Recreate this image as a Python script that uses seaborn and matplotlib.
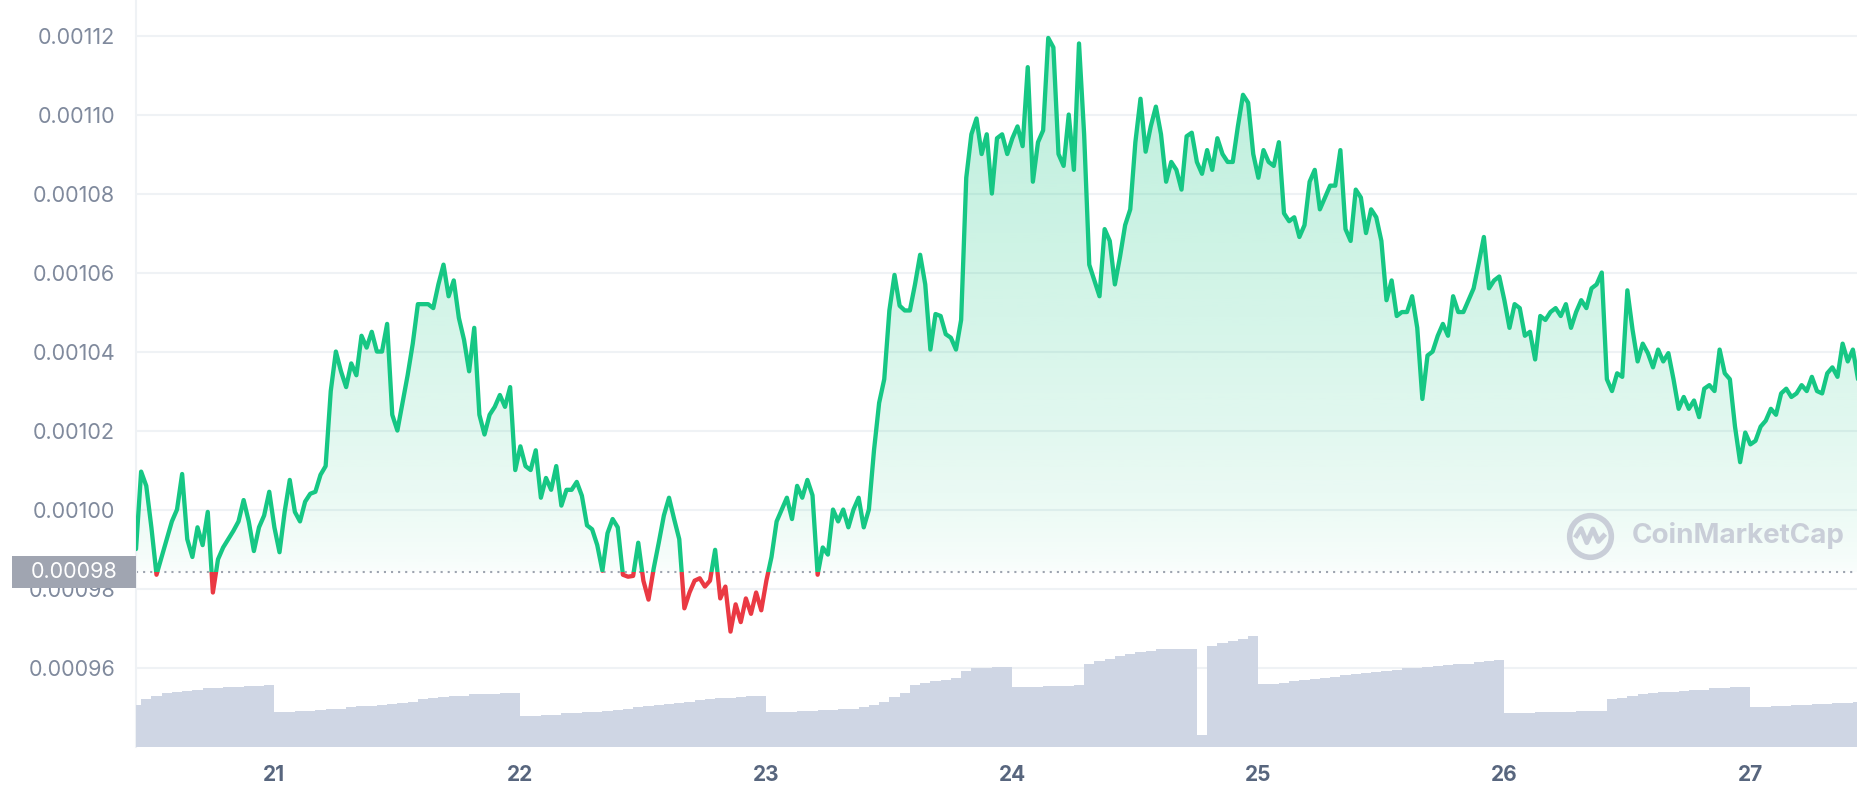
import numpy as np
import pandas as pd
import matplotlib.pyplot as plt
import matplotlib.dates as mdates
import matplotlib.transforms as mtransforms
from matplotlib.patches import Rectangle
from matplotlib.path import Path
import seaborn as sns

# price readings, one every 30 minutes from Nov 20 10:30, in millionths
price_nov20 = [990, 1009.6, 1006, 995.5, 983.5, 988, 992.5, 997, 1000, 1009, 992.5, 988, 995.5, 991,
               999.4, 979, 987.4, 990.4, 992.5, 994.6, 997, 1002.4, 997, 989.5, 995.5, 998.5, 1004.5]
price_nov21 = [995.5, 989.2, 999.4, 1007.5, 999.4, 997, 1002, 1004, 1004.5, 1008.8, 1011, 1030, 1040, 1035,
               1031, 1037, 1034, 1044, 1041, 1045, 1040, 1040, 1047, 1024, 1020, 1027, 1034, 1042, 1052, 1052,
               1052, 1051, 1057, 1062, 1054, 1058, 1048.5, 1043, 1035, 1046, 1024, 1019, 1024, 1026, 1029,
               1026, 1031, 1010]
price_nov22 = [1016, 1011, 1010, 1015, 1003, 1008, 1005, 1011, 1001, 1005, 1005, 1007, 1003.5, 996, 995, 991,
               984.5, 994, 997.6, 995.5, 983.5, 983, 983.2, 991.6, 982, 977.2, 985, 991.6, 998.5, 1003, 997.6,
               992.5, 975, 979, 982, 982.6, 980.5, 982, 989.8, 977.5, 980.5, 969.1, 976, 971.5, 977.5, 973.6,
               979, 974.5]
price_nov23 = [982, 988, 997, 1000, 1003, 997.6, 1006, 1003, 1007.5, 1003.6, 983.5, 990.4, 988.6, 1000, 997,
               1000, 995.5, 1000, 1003, 995.5, 1000, 1015, 1027, 1033, 1050.4, 1059.4, 1051.6, 1050.4, 1050.4,
               1057, 1064.5, 1057, 1040.5, 1049.5, 1049, 1044.4, 1043.5, 1040.5, 1048, 1084, 1095, 1099, 1090,
               1095, 1080, 1094, 1095, 1090]
price_nov24 = [1094, 1097, 1092, 1112, 1083, 1093, 1096, 1119.4, 1117, 1090, 1087, 1100, 1086, 1118, 1095,
               1062, 1058, 1054, 1071, 1068, 1057, 1064, 1072, 1076, 1093, 1104, 1090.6, 1097, 1102, 1095,
               1083, 1088, 1086, 1081, 1094.5, 1095.4, 1088, 1085, 1091, 1086, 1094, 1090, 1088, 1088, 1097,
               1105, 1103, 1090]
price_nov25 = [1084, 1091, 1088, 1087, 1093, 1075, 1073, 1074, 1069, 1072, 1083, 1086, 1076, 1079, 1082, 1082,
               1091, 1071, 1068, 1081, 1079, 1070, 1076, 1074, 1068, 1053, 1058, 1049, 1050, 1050, 1054, 1046,
               1028, 1039, 1040, 1044, 1047, 1044, 1054, 1050, 1050, 1053, 1056, 1062.4, 1069, 1056, 1058, 1059]
price_nov26 = [1053, 1046, 1052, 1051, 1044, 1045, 1038, 1049, 1048, 1050, 1051, 1049, 1052, 1046, 1050, 1053,
               1051, 1056, 1057, 1060, 1033, 1030, 1034.5, 1033.6, 1055.5, 1045.6, 1037.5, 1042, 1039.6, 1036,
               1040.5, 1037.5, 1039.6, 1033, 1025.5, 1028.5, 1025.5, 1027.6, 1023.4, 1030.6, 1031.5, 1030,
               1040.5, 1034.5, 1033, 1021, 1012, 1019.5]
price_nov27 = [1016.5, 1017.4, 1021, 1022.5, 1025.5, 1024, 1029.4, 1030.6, 1028.5, 1029.4, 1031.5, 1030,
               1033.6, 1030, 1029.4, 1034.5, 1036, 1033.6, 1042, 1037.5, 1040.5, 1033]

# rolling 24h volume, one reading per hour (relative bar height)
vol_nov20 = [35, 40, 43, 45, 46, 47, 48, 49, 49, 50, 50, 51, 51, 52]
vol_nov21 = [29, 29, 30, 30, 31, 32, 32, 33, 34, 34, 35, 36, 37, 38, 40, 41, 42, 43, 43, 44, 44, 44, 45, 45]
vol_nov22 = [26, 26, 27, 27, 28, 28, 29, 29, 30, 31, 32, 33, 34, 35, 36, 37, 38, 39, 40, 41, 41, 42, 43, 43]
vol_nov23 = [29, 29, 29, 30, 30, 31, 31, 32, 32, 33, 35, 38, 42, 45, 52, 54, 55, 56, 58, 64, 66, 66, 67, 67]
vol_nov24 = [50, 50, 50, 51, 51, 51, 52, 70, 72, 74, 76, 78, 80, 81, 82, 82, 82, 82, 10, 85, 87, 89, 91, 93]
vol_nov25 = [53, 53, 54, 55, 56, 57, 58, 59, 60, 61, 62, 63, 64, 65, 66, 66, 67, 68, 69, 70, 70, 71, 72, 73]
vol_nov26 = [28, 28, 28, 29, 29, 29, 29, 30, 30, 30, 40, 41, 43, 44, 45, 46, 46, 47, 48, 48, 49, 49, 50, 50]
vol_nov27 = [33, 33, 34, 34, 35, 35, 36, 36, 37, 37, 38]

open_price = 984.1
y_ticks = [0.00096, 0.00098, 0.00100, 0.00102, 0.00104, 0.00106, 0.00108, 0.00110, 0.00112]
day_ticks = [21, 22, 23, 24, 25, 26, 27]

GREEN = "#16c784"
RED = "#ea3943"
GRID = "#eff2f5"
VOL = "#cfd6e4"
LABEL = "#808a9d"
MARK = "#c9ced8"

sns.set_style("white")
plt.rcParams["font.family"] = ["Inter", "DejaVu Sans"]

start = pd.Timestamp("2022-11-20 10:30")
price = np.array(price_nov20 + price_nov21 + price_nov22 + price_nov23 +
                 price_nov24 + price_nov25 + price_nov26 + price_nov27) * 1e-6
volume = (vol_nov20 + vol_nov21 + vol_nov22 + vol_nov23 +
          vol_nov24 + vol_nov25 + vol_nov26 + vol_nov27)
df = pd.DataFrame({"time": pd.date_range(start, periods=len(price), freq="30min"), "price": price})
vol_df = pd.DataFrame({"time": pd.date_range(start, periods=len(volume), freq="1h"), "volume": volume})
base = open_price * 1e-6
y_lo, y_hi = 0.000940, 0.001129

fig = plt.figure(figsize=(18.58, 8), dpi=100)
ax = fig.add_axes([0.0732, 0.0668, 0.9268, 0.9332])
ax_vol = ax.twinx()
ax_vol.set_zorder(ax.get_zorder() + 1)
ax_vol.patch.set_visible(False)

# volume bars, drawn over the grid
ax_vol.fill_between(vol_df["time"], vol_df["volume"], step="mid", color=VOL, lw=0)
ax_vol.set_ylim(0, 630)
ax_vol.set_yticks([])
for s in ax_vol.spines.values():
    s.set_visible(False)

# gradient area above the open price
area = ax.fill_between(df["time"], df["price"], base, where=df["price"] >= base,
                       interpolate=True, facecolor="none", edgecolor="none")
clip = Path.make_compound_path(*area.get_paths())
t = np.linspace(1, 0, 256)
grad = np.zeros((256, 1, 4))
grad[..., :3] = plt.matplotlib.colors.to_rgb(GREEN)
grad[..., 3] = (0.02 + 0.27 * t ** 0.7)[:, None]
x0 = mdates.date2num(df["time"].iloc[0])
x1 = mdates.date2num(df["time"].iloc[-1])
im = ax.imshow(grad, extent=[x0, x1, base, 0.00112], aspect="auto", origin="upper", zorder=1)
im.set_clip_path(clip, ax.transData)

# price line: green above open, red below
blend = mtransforms.blended_transform_factory(ax.transAxes, ax.transData)
sns.lineplot(data=df, x="time", y="price", ax=ax, color=GREEN, lw=3.1, zorder=3)
sns.lineplot(data=df, x="time", y="price", ax=ax, color=RED, lw=3.1, zorder=3)
green_line, red_line = ax.lines[-2], ax.lines[-1]
green_line.set_clip_path(Rectangle((0, base), 1, 1, transform=blend))
red_line.set_clip_path(Rectangle((0, base - 1), 1, 1, transform=blend))
for ln in (green_line, red_line):
    ln.set_solid_joinstyle("round")

ax.axhline(base, color="#9ea4b0", lw=1.5, ls=(0, (1, 2.4)), zorder=2)

# axes styling
ax.set_xlim(start, start + pd.Timedelta(days=7))
ax.set_ylim(y_lo, y_hi)
ax.set_yticks(y_ticks)
ax.set_yticklabels([f"{v:.5f}" for v in y_ticks])
ax.set_xticks([pd.Timestamp(2022, 11, d) for d in day_ticks])
ax.set_xticklabels([str(d) for d in day_ticks])
ax.tick_params(axis="y", length=0, pad=15, labelsize=15.5, labelcolor=LABEL)
ax.tick_params(axis="x", length=0, pad=13, labelsize=15, labelcolor="#58667e")
for lbl in ax.get_xticklabels():
    lbl.set_fontweight("bold")
ax.yaxis.grid(True, color=GRID, lw=1.5)
ax.xaxis.grid(False)
ax.set_axisbelow(True)
ax.set_xlabel("")
ax.set_ylabel("")
for side in ["top", "right", "bottom"]:
    ax.spines[side].set_visible(False)
ax.spines["left"].set_color(GRID)
ax.spines["left"].set_linewidth(1.5)

# open price tag
ax.add_patch(Rectangle((-0.0723, base - 4.05e-6), 0.0723, 8.1e-6, transform=blend,
                       facecolor="#a0a5b1", edgecolor="none", clip_on=False, zorder=10))
ax.text(-0.0362, base, "0.00098", transform=blend, ha="center", va="center",
        fontsize=15.5, color="white", zorder=11, clip_on=False)

# watermark
wave = Path([(-0.62, -0.05), (-0.38, 0.32), (-0.15, -0.25), (0.1, 0.3), (0.32, -0.2), (0.6, 0.1)])
ax.plot([0.8445], [0.2825], marker="o", ms=30, mfc="none", mec=MARK, mew=4,
        transform=ax.transAxes, zorder=4)
ax.plot([0.8445], [0.2825], marker=wave, ms=22, mfc="none", mec=MARK, mew=3.5,
        transform=ax.transAxes, zorder=4)
ax.text(0.8686, 0.2825, "CoinMarketCap", transform=ax.transAxes, ha="left", va="center",
        fontsize=20, fontweight="bold", color=MARK, zorder=4)

fig.savefig("out.png", dpi=100)
